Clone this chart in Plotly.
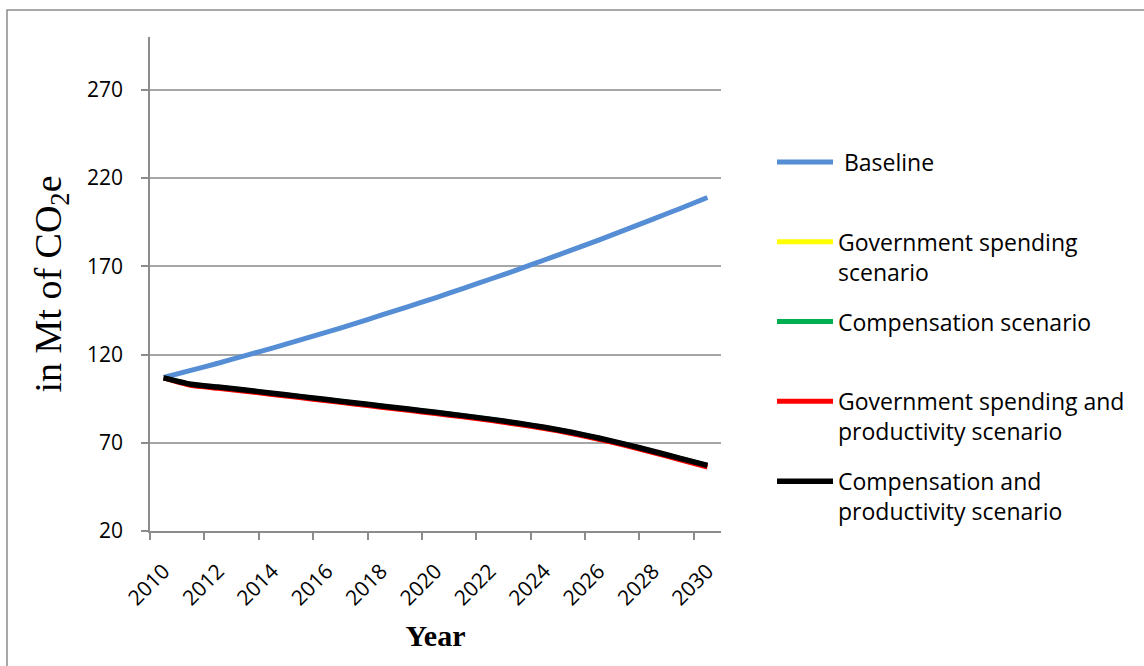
import plotly.graph_objects as go

# ---------------- data ----------------
years = list(range(2010, 2031))
tick_years = list(range(2010, 2031, 2))

baseline = [107.0, 111.0, 115.1, 119.4, 123.7, 128.2, 132.7, 137.4, 142.3, 147.2,
            152.2, 157.4, 162.7, 168.0, 173.6, 179.2, 184.9, 190.8, 196.8, 202.8, 209.0]
gov_spending = [106.8, 102.9, 101.2, 99.5, 97.7, 95.9, 94.1, 92.3, 90.5, 88.7,
                86.9, 85.0, 83.0, 80.8, 78.4, 75.6, 72.3, 68.7, 64.8, 60.8, 56.8]
compensation = [106.8, 103.1, 101.5, 99.8, 98.0, 96.2, 94.4, 92.6, 90.8, 89.0,
                87.2, 85.3, 83.3, 81.1, 78.7, 75.9, 72.6, 69.0, 65.1, 61.1, 57.1]
gov_spending_prod = [106.8, 102.6, 100.9, 99.2, 97.4, 95.6, 93.8, 92.0, 90.2, 88.4,
                     86.6, 84.7, 82.7, 80.5, 78.1, 75.3, 72.0, 68.4, 64.5, 60.4, 56.3]
compensation_prod = [106.8, 103.2, 101.6, 99.9, 98.1, 96.3, 94.5, 92.7, 90.9, 89.1,
                     87.3, 85.4, 83.4, 81.2, 78.8, 76.0, 72.7, 69.1, 65.2, 61.2, 57.2]

series = [
    (" Baseline<br> ", baseline, "#558ed5", 5.0),
    ("Government spending<br>scenario", gov_spending, "#ffff00", 5.0),
    ("Compensation scenario<br> ", compensation, "#00b050", 5.0),
    ("Government spending and<br>productivity scenario", gov_spending_prod, "#ff0000", 5.0),
    ("Compensation and<br>productivity scenario", compensation_prod, "#000000", 5.5),
]

# ---------------- layout helpers ----------------
W, H = 1144, 666
PL, PR, PT, PB = 150, 721, 37, 531


def px(x):
    return (x - PL) / (PR - PL)


def py(y):
    return (PB - y) / (PB - PT)


fig = go.Figure()
for i, (name, vals, col, lw) in enumerate(series):
    fig.add_trace(go.Scatter(
        x=years, y=vals, name=name, mode="lines",
        line=dict(color=col, width=lw, shape="spline", smoothing=0.5),
        legendgroup=f"g{i}", showlegend=True,
    ))

GRID = "#a6a6a6"
AX = "#8c8c8c"
TICKFONT = dict(family="Open Sans", size=21, color="#000000")

fig.update_layout(
    width=W, height=H,
    margin=dict(l=PL, r=W - PR, t=PT, b=H - PB),
    paper_bgcolor="white", plot_bgcolor="white",
    showlegend=True,
    legend=dict(
        x=px(772), y=py(140.5), xanchor="left", yanchor="top",
        font=dict(family="Open Sans", size=23, color="#000000"),
        tracegroupgap=17, valign="top", itemwidth=56,
        bgcolor="rgba(0,0,0,0)",
    ),
    xaxis=dict(
        range=[2009.5, 2030.5],
        tickmode="array", tickvals=tick_years, ticktext=[str(t) for t in tick_years],
        ticks="", tickangle=-45, tickfont=TICKFONT, ticklabelstandoff=18,
        showgrid=False, zeroline=False,
        showline=True, linecolor=AX, linewidth=1.5,
        minor=dict(tickmode="array", tickvals=[y - 0.5 for y in tick_years],
                   ticks="outside", ticklen=7, tickcolor=AX, tickwidth=1.5, showgrid=False),
        title=dict(text="<b>Year</b>",
                   font=dict(family="Liberation Serif", size=30, color="#000000"),
                   standoff=15),
        fixedrange=True,
    ),
    yaxis=dict(
        range=[20, 300],
        tickmode="linear", tick0=20, dtick=50,
        ticks="outside", ticklen=7, tickcolor=AX, tickwidth=1.5,
        tickfont=TICKFONT, ticklabelstandoff=14,
        showgrid=True, gridcolor=GRID, gridwidth=1.5,
        zeroline=False,
        showline=True, linecolor=AX, linewidth=1.5,
        title=dict(text="in Mt of CO<sub>2</sub>e",
                   font=dict(family="Liberation Serif", size=38, color="#000000"),
                   standoff=14),
        fixedrange=True,
    ),
    shapes=[dict(type="rect", xref="paper", yref="paper",
                 x0=px(7), x1=px(1160), y0=py(700), y1=py(10),
                 line=dict(color="#8c8c8c", width=1.5), fillcolor="rgba(0,0,0,0)",
                 layer="below")],
)

fig.write_html("out.html")
